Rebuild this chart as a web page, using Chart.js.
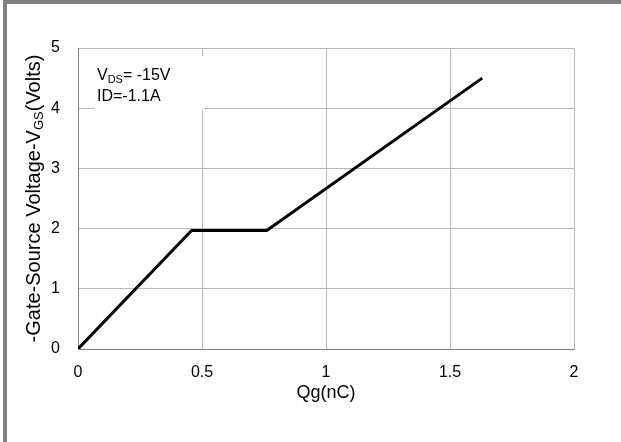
<!DOCTYPE html>
<html>
<head>
<meta charset="utf-8">
<script src="https://cdn.jsdelivr.net/npm/chart.js@4/dist/chart.umd.min.js"></script>
<style>
 html, body { margin: 0; padding: 0; background: #fff; }
 #frame { position: absolute; left: 3px; top: 0; width: 618px; height: 442px; box-sizing: border-box;
          border-top: 4px solid #808080; border-left: 4px solid #808080; }
 #wrap { position: absolute; left: 0; top: 0; width: 621px; height: 442px; }
</style>
</head>
<body>
<div id="frame"></div>
<div id="wrap"><canvas id="myChart"></canvas></div>
<script>
 // Gate charge curve
 const qg = [0, 0.458, 0.761, 1.63];      // nC
 const vgs = [0, 1.97, 1.97, 4.5];        // Volts
 const xTicks = ['0', '0.5', '1', '1.5', '2'];
 const yTicks = ['0', '1', '2', '3', '4', '5'];
 const FONT = 'Arial, "Liberation Sans", sans-serif';

 // axis titles and the test condition box are drawn by hand (subscripts)
 const textPlugin = {
     id: 'texts',
     beforeDatasetsDraw(chart) {
         const ctx = chart.ctx;
         ctx.save();
         ctx.fillStyle = '#fff';
         ctx.fillRect(95, 56, 109, 54);
         ctx.fillStyle = '#000';
         ctx.textBaseline = 'alphabetic';
         ctx.textAlign = 'left';
         let x = 97;
         ctx.font = '16px ' + FONT;
         ctx.fillText('V', x, 80);
         x += ctx.measureText('V').width;
         ctx.font = '11px ' + FONT;
         ctx.fillText('DS', x, 83);
         x += ctx.measureText('DS').width;
         ctx.font = '16px ' + FONT;
         ctx.fillText('= -15V', x, 80);
         ctx.fillText('ID=-1.1A', 97, 101);
         ctx.restore();
     },
     afterDraw(chart) {
         const ctx = chart.ctx;
         const a = chart.chartArea;
         ctx.save();
         ctx.fillStyle = '#000';
         ctx.textAlign = 'center';
         ctx.textBaseline = 'alphabetic';
         ctx.font = '18px ' + FONT;
         ctx.fillText('Qg(nC)', (a.left + a.right) / 2, 398);

         const p1 = '-Gate-Source Voltage-V', p2 = 'GS', p3 = '(Volts)';
         ctx.translate(40, (a.top + a.bottom) / 2);
         ctx.rotate(-Math.PI / 2);
         ctx.textAlign = 'left';
         ctx.font = '20px ' + FONT;
         const w1 = ctx.measureText(p1).width, w3 = ctx.measureText(p3).width;
         ctx.font = '13px ' + FONT;
         const w2 = ctx.measureText(p2).width;
         let x = -(w1 + w2 + w3) / 2;
         ctx.font = '20px ' + FONT;
         ctx.fillText(p1, x, 0);
         x += w1;
         ctx.font = '13px ' + FONT;
         ctx.fillText(p2, x, 3);
         x += w2;
         ctx.font = '20px ' + FONT;
         ctx.fillText(p3, x, 0);
         ctx.restore();
     }
 };

 new Chart("myChart", {
     type: "scatter",
     data: {
         datasets: [{
             data: qg.map((v, i) => ({ x: v, y: vgs[i] })),
             showLine: true,
             borderColor: "#000",
             borderWidth: 3,
             pointRadius: 0,
             fill: false
         }]
     },
     options: {
         responsive: true,
         maintainAspectRatio: false,
         animation: false,
         layout: { padding: { left: 8, top: 48, right: 47, bottom: 0 } },
         plugins: { legend: { display: false }, tooltip: { enabled: false } },
         scales: {
             x: {
                 type: 'linear', min: 0, max: 2,
                 afterFit(s) { s.height = 93; },
                 grid: { color: '#b8b8b8', drawTicks: false },
                 border: { color: '#808080' },
                 ticks: {
                     stepSize: 0.5, padding: 14, color: '#000',
                     font: { family: FONT, size: 16 },
                     callback: (v, i) => xTicks[i]
                 }
             },
             y: {
                 type: 'linear', min: 0, max: 5,
                 afterFit(s) { s.width = 70; },
                 grid: { color: '#b8b8b8', drawTicks: false },
                 border: { color: '#808080' },
                 ticks: {
                     stepSize: 1, padding: 18, color: '#000',
                     font: { family: FONT, size: 16 },
                     callback: (v, i) => yTicks[i]
                 }
             }
         }
     },
     plugins: [textPlugin]
 });
</script>
</body>
</html>
